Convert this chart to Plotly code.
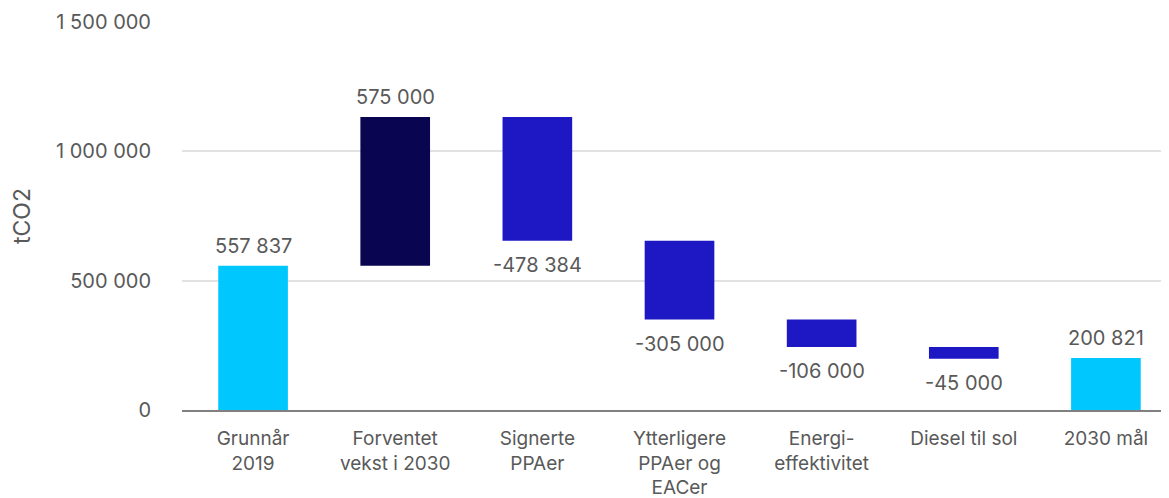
import plotly.graph_objects as go

categories = ["Grunnår<br>2019", "Forventet<br>vekst i 2030", "Signerte<br>PPAer",
              "Ytterligere<br>PPAer og<br>EACer", "Energi-<br>effektivitet",
              "Diesel til sol", "2030 mål"]
values = [557837, 575000, -478384, -305000, -106000, -45000, 200821]
measures = ["absolute", "relative", "relative", "relative", "relative", "relative", "absolute"]
tick_vals = [0, 500000, 1000000, 1500000]
tick_text = ["0", "500 000", "1 000 000", "1 500 000"]

labels = [f"{v:,}".replace(",", " ") for v in values]

font_family = "Inter, Roboto, sans-serif"
grey = "#595959"
fs = 20

fig = go.Figure(go.Waterfall(
    x=categories,
    y=values,
    measure=measures,
    increasing=dict(marker=dict(color="#0A0550")),
    decreasing=dict(marker=dict(color="#1E17C4")),
    totals=dict(marker=dict(color="#00C8FF")),
    connector=dict(visible=False),
    hoverinfo="skip",
))

# label positions at bar ends (computed from the data)
running = 0
for cat, v, m, lab in zip(categories, values, measures, labels):
    if m == "absolute":
        running = v
        end = v
        up = True
    else:
        running += v
        end = running
        up = v > 0
    fig.add_annotation(x=cat, y=end, text=lab, showarrow=False,
                       yanchor="middle", yshift=20 if up else -24,
                       font=dict(size=fs, color=grey, family=font_family))

fig.update_layout(
    width=1169, height=490,
    margin=dict(l=174, r=0, t=14, b=88),
    plot_bgcolor="white", paper_bgcolor="white",
    showlegend=False,
    waterfallgap=0.51,
    font=dict(family=font_family, size=fs, color=grey),
    yaxis=dict(range=[0, 1500000], tickvals=tick_vals, ticktext=tick_text,
               showgrid=True, gridcolor="#E2E2E2", gridwidth=1.5,
               zeroline=False, showline=False, ticks="", ticklabelstandoff=30,
               tickfont=dict(size=fs, color=grey), automargin=False,
               title=dict(text="tCO2", font=dict(size=23, color=grey), standoff=18)),
    xaxis=dict(showline=True, linecolor="#808080", linewidth=2, ticks="",
               ticklabelstandoff=10, automargin=False,
               tickfont=dict(size=19, color=grey)),
)

fig.write_html("out.html")
